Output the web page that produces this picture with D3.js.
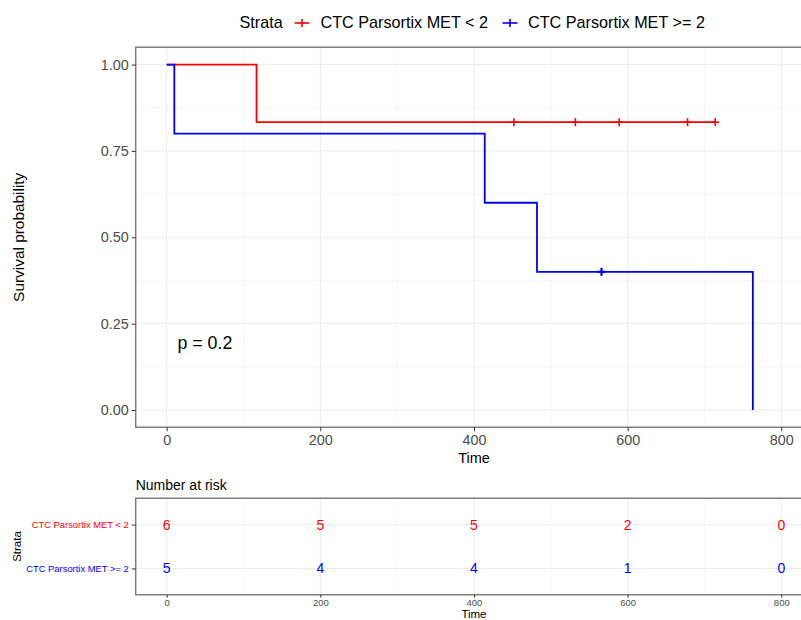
<!DOCTYPE html>
<html>
<head>
<meta charset="utf-8">
<script src="https://cdn.jsdelivr.net/npm/d3@7"></script>
<style>
  body { margin: 0; background: #fff; }
  text { font-family: "Liberation Sans", Arial, sans-serif; }
</style>
</head>
<body>
<svg id="svg1" width="801" height="620"></svg>
<script>
// survival curves (step points)
const strata = ["CTC Parsortix MET < 2", "CTC Parsortix MET >= 2"];
const colors = ["#FF0000", "#0000FF"];

const redTime = [0, 117, 714];
const redSurv = [1, 0.8333, 0.8333];
const blueTime = [0, 10, 414, 482, 763];
const blueSurv = [1, 0.8, 0.6, 0.4, 0];

// censored observations
const redCensorTime = [452, 532, 589, 678, 714];
const redCensorSurv = [0.8333, 0.8333, 0.8333, 0.8333, 0.8333];
const blueCensorTime = [566];
const blueCensorSurv = [0.4];

// number at risk table
const riskTimes = [0, 200, 400, 600, 800];
const redRisk = [6, 5, 5, 2, 0];
const blueRisk = [5, 4, 4, 1, 0];

const xTicks = [0, 200, 400, 600, 800];
const yTicks = [0, 0.25, 0.5, 0.75, 1];
const pText = "p = 0.2";

const svg = d3.select('#svg1');
const left = 135.7;
const pTop = 47.3, pBottom = 427.3;
const rTop = 498.3, rBottom = 594.7;
const right = 827;

var x = d3.scaleLinear().domain([-40.3, 859.5]).range([left, right]);
var y = d3.scaleLinear().domain([-0.05, 1.05]).range([pBottom, pTop]);
var yr = d3.scalePoint().domain(strata).range([rTop, rBottom]).padding(0.6);

const gridMajor = "#ebebeb", gridMinor = "#f4f4f4", frame = "#7f7f7f";

function vgrid(g, y0, y1) {
    g.selectAll('line.minor').data([100, 300, 500, 700]).enter().append('line')
        .attr('x1', d => x(d)).attr('x2', d => x(d))
        .attr('y1', y0).attr('y2', y1)
        .attr('stroke', gridMinor).attr('stroke-width', 0.8);
    g.selectAll('line.major').data(xTicks).enter().append('line')
        .attr('x1', d => x(d)).attr('x2', d => x(d))
        .attr('y1', y0).attr('y2', y1)
        .attr('stroke', gridMajor).attr('stroke-width', 1);
}

// ---- main panel ----
const main = svg.append('g');
main.selectAll('line.hmin').data([0.125, 0.375, 0.625, 0.875]).enter().append('line')
    .attr('x1', left).attr('x2', right)
    .attr('y1', d => y(d)).attr('y2', d => y(d))
    .attr('stroke', gridMinor).attr('stroke-width', 0.8);
main.selectAll('line.hmaj').data(yTicks).enter().append('line')
    .attr('x1', left).attr('x2', right)
    .attr('y1', d => y(d)).attr('y2', d => y(d))
    .attr('stroke', gridMajor).attr('stroke-width', 1);
vgrid(main.append('g'), pTop, pBottom);

const line = d3.line().curve(d3.curveStepAfter).x(d => x(d[0])).y(d => y(d[1]));
const curves = [d3.zip(redTime, redSurv), d3.zip(blueTime, blueSurv)];
main.selectAll('path.km').data(curves).enter().append('path')
    .attr('d', line)
    .attr('fill', 'none')
    .attr('stroke', (d, i) => colors[i])
    .attr('stroke-width', 1.8);

const censors = [d3.zip(redCensorTime, redCensorSurv), d3.zip(blueCensorTime, blueCensorSurv)];
censors.forEach(function(pts, i) {
    const g = main.append('g').attr('stroke', colors[i]).attr('stroke-width', i ? 2.2 : 1.6);
    pts.forEach(function(p) {
        g.append('line').attr('x1', x(p[0]) - 4).attr('x2', x(p[0]) + 4)
            .attr('y1', y(p[1])).attr('y2', y(p[1]));
        g.append('line').attr('x1', x(p[0])).attr('x2', x(p[0]))
            .attr('y1', y(p[1]) - 4).attr('y2', y(p[1]) + 4);
    });
});

main.append('text').text(pText)
    .attr('x', x(14)).attr('y', y(0.177))
    .attr('font-size', 17.8).attr('fill', '#000');

// frame
main.append('path')
    .attr('d', 'M' + right + ',' + pTop + 'H' + left + 'V' + pBottom + 'H' + right)
    .attr('fill', 'none').attr('stroke', frame).attr('stroke-width', 1.5);

// axes
const yAxis = svg.append('g')
    .attr('transform', 'translate(' + left + ',0)')
    .call(d3.axisLeft(y).tickValues(yTicks).tickFormat(d3.format('.2f')).tickSize(4).tickPadding(3));
const xAxis = svg.append('g')
    .attr('transform', 'translate(0,' + pBottom + ')')
    .call(d3.axisBottom(x).tickValues(xTicks).tickSize(4).tickPadding(3));
[yAxis, xAxis].forEach(function(a) {
    a.select('.domain').remove();
    a.selectAll('.tick line').attr('stroke', '#333');
    a.selectAll('.tick text').attr('fill', '#4d4d4d').attr('font-size', 14.4)
        .attr('font-family', '"Liberation Sans", Arial, sans-serif');
});

svg.append('text').text('Time')
    .attr('x', x(400)).attr('y', 463)
    .attr('text-anchor', 'middle').attr('font-size', 14.5);
svg.append('text').text('Survival probability')
    .attr('transform', 'translate(24,' + ((pTop + pBottom) / 2) + ') rotate(-90)')
    .attr('text-anchor', 'middle').attr('font-size', 15.4);

// legend
const leg = svg.append('g').attr('transform', 'translate(0,28)');
leg.append('text').text('Strata').attr('x', 239.5).attr('font-size', 16.2);
const legX = [302, 510];
const legTextX = [320.5, 528];
strata.forEach(function(s, i) {
    leg.append('line').attr('x1', legX[i] - 7.5).attr('x2', legX[i] + 7.5)
        .attr('y1', -5).attr('y2', -5).attr('stroke', colors[i]).attr('stroke-width', 1.6);
    leg.append('line').attr('x1', legX[i]).attr('x2', legX[i])
        .attr('y1', -9).attr('y2', -1).attr('stroke', colors[i]).attr('stroke-width', 1.6);
    leg.append('text').text(s).attr('x', legTextX[i]).attr('font-size', 16.2);
});

// ---- number at risk table ----
svg.append('text').text('Number at risk')
    .attr('x', left).attr('y', 490).attr('font-size', 14);

const risk = svg.append('g');
risk.selectAll('line.h').data(strata).enter().append('line')
    .attr('x1', left).attr('x2', right)
    .attr('y1', d => yr(d)).attr('y2', d => yr(d))
    .attr('stroke', gridMajor).attr('stroke-width', 1);
vgrid(risk.append('g'), rTop, rBottom);

[redRisk, blueRisk].forEach(function(vals, i) {
    risk.selectAll('text.r' + i).data(vals).enter().append('text')
        .attr('x', (d, j) => x(riskTimes[j]))
        .attr('y', yr(strata[i]))
        .attr('dy', '0.36em')
        .attr('text-anchor', 'middle')
        .attr('font-size', 14)
        .attr('fill', colors[i])
        .text(d => d);
});

risk.append('path')
    .attr('d', 'M' + right + ',' + rTop + 'H' + left + 'V' + rBottom + 'H' + right)
    .attr('fill', 'none').attr('stroke', frame).attr('stroke-width', 1.5);

const ryAxis = svg.append('g')
    .attr('transform', 'translate(' + left + ',0)')
    .call(d3.axisLeft(yr).tickSize(4).tickPadding(3));
const rxAxis = svg.append('g')
    .attr('transform', 'translate(0,' + rBottom + ')')
    .call(d3.axisBottom(x).tickValues(xTicks).tickSize(3).tickPadding(2));
[ryAxis, rxAxis].forEach(function(a) {
    a.select('.domain').remove();
    a.selectAll('.tick line').attr('stroke', '#333');
    a.selectAll('.tick text').attr('font-family', '"Liberation Sans", Arial, sans-serif');
});
ryAxis.selectAll('.tick text').attr('font-size', 9.4).attr('fill', (d, i) => colors[i]);
rxAxis.selectAll('.tick text').attr('font-size', 9.5).attr('fill', '#4d4d4d');

svg.append('text').text('Time')
    .attr('x', x(400)).attr('y', 617.5)
    .attr('text-anchor', 'middle').attr('font-size', 11.5);
svg.append('text').text('Strata')
    .attr('transform', 'translate(21,' + ((rTop + rBottom) / 2) + ') rotate(-90)')
    .attr('text-anchor', 'middle').attr('font-size', 11.5);
</script>
</body>
</html>
